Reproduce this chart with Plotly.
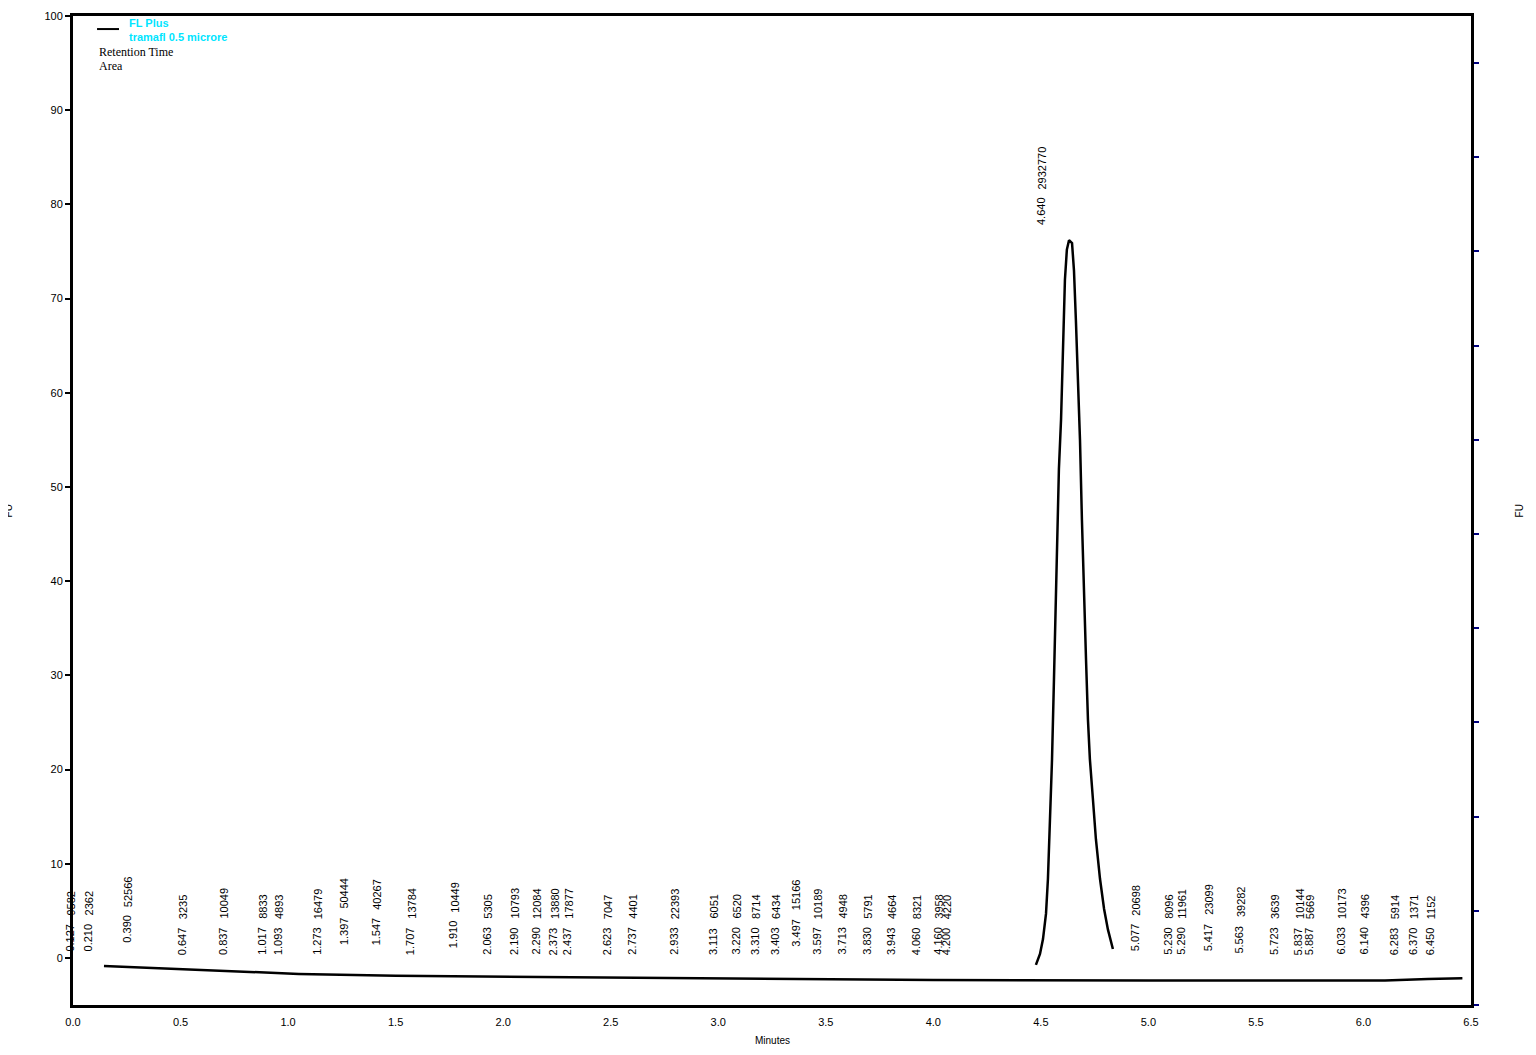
import plotly.graph_objects as go

# baseline of the chromatogram (minutes, FU)
base_t = [0.144, 0.5, 1.05, 1.5, 2.0, 2.6, 3.0, 3.5, 4.0, 5.0, 6.1, 6.3, 6.46]
base_fu = [-0.85, -1.2, -1.7, -1.9, -2.0, -2.05, -2.2, -2.3, -2.35, -2.4, -2.4, -2.25, -2.15]

# main peak trace (minutes, FU)
peak_t = [4.477, 4.496, 4.510, 4.524, 4.533, 4.542, 4.552, 4.561, 4.570, 4.575, 4.584,
          4.594, 4.603, 4.612, 4.621, 4.631, 4.645, 4.654, 4.663, 4.673, 4.682, 4.691,
          4.700, 4.710, 4.719, 4.728, 4.742, 4.756, 4.775, 4.794, 4.812, 4.835]
peak_fu = [-0.74, 0.42, 2.0, 4.7, 8.4, 13.7, 21.1, 29.6, 38.1, 43.4, 51.9,
           57.2, 65.6, 72.0, 75.2, 76.2, 75.9, 73.0, 67.7, 61.4, 55.0, 46.5,
           38.1, 31.7, 25.3, 21.1, 16.9, 12.6, 8.4, 5.2, 3.0, 0.95]

# integration results
ret_time = [0.127, 0.210, 0.390, 0.647, 0.837, 1.017, 1.093, 1.273, 1.397, 1.547,
            1.707, 1.910, 2.063, 2.190, 2.290, 2.373, 2.437, 2.623, 2.737, 2.933,
            3.113, 3.220, 3.310, 3.403, 3.497, 3.597, 3.713, 3.830, 3.943, 4.060,
            4.160, 4.200, 4.640, 5.077, 5.230, 5.290, 5.417, 5.563, 5.723, 5.837,
            5.887, 6.033, 6.140, 6.283, 6.370, 6.450]
areas = [9582, 2362, 52566, 3235, 10049, 8833, 4893, 16479, 50444, 40267,
         13784, 10449, 5305, 10793, 12084, 13880, 17877, 7047, 4401, 22393,
         6051, 6520, 8714, 6434, 15166, 10189, 4948, 5791, 4664, 8321,
         3958, 4220, 2932770, 20698, 8096, 11961, 23099, 39282, 3639, 10144,
         5669, 10173, 4396, 5914, 1371, 1152]
# level (FU) where each label starts
label_fu = [0.6, 0.6, 1.5, 0.2, 0.2, 0.2, 0.2, 0.2, 1.3, 1.2,
            0.2, 0.9, 0.2, 0.2, 0.2, 0.2, 0.2, 0.2, 0.2, 0.2,
            0.2, 0.2, 0.2, 0.2, 1.1, 0.2, 0.2, 0.2, 0.2, 0.2,
            0.2, 0.2, 77.7, 0.6, 0.2, 0.2, 0.6, 0.4, 0.2, 0.2,
            0.2, 0.2, 0.2, 0.2, 0.2, 0.2]

x_ticks = [0.0, 0.5, 1.0, 1.5, 2.0, 2.5, 3.0, 3.5, 4.0, 4.5, 5.0, 5.5, 6.0, 6.5]
y_ticks = [0, 10, 20, 30, 40, 50, 60, 70, 80, 90, 100]
right_ticks = [-5, 5, 15, 25, 35, 45, 55, 65, 75, 85, 95]

fig = go.Figure()
fig.add_trace(go.Scatter(x=base_t, y=base_fu, mode="lines",
                         line=dict(color="black", width=2.5), showlegend=False))
fig.add_trace(go.Scatter(x=peak_t, y=peak_fu, mode="lines",
                         line=dict(color="black", width=2.5), showlegend=False))
# dummy trace so the right axis is drawn
fig.add_trace(go.Scatter(x=[0], y=[0], yaxis="y2", mode="markers",
                         marker=dict(opacity=0), showlegend=False, hoverinfo="skip"))

lab_font = dict(family="Liberation Sans", size=11, color="black")
for rt, ar, lv in zip(ret_time, areas, label_fu):
    fig.add_annotation(x=rt, y=lv, text=f"{rt:.3f}", textangle=-90, showarrow=False,
                       xanchor="center", yanchor="bottom", xshift=-30, font=lab_font,
                       borderpad=0)
    fig.add_annotation(x=rt, y=lv, text=str(ar), textangle=-90, showarrow=False,
                       xanchor="center", yanchor="bottom", xshift=-29, yshift=36,
                       font=lab_font, borderpad=0)

# legend block
fig.add_shape(type="line", xref="paper", yref="paper", x0=0.0172, x1=0.0329,
              y0=0.9868, y1=0.9868, line=dict(color="black", width=2))
fig.add_annotation(xref="paper", yref="paper", x=0.0386, y=0.9929, text="<b>FL Plus</b>",
                   showarrow=False, xanchor="left", yanchor="middle",
                   font=dict(family="Liberation Sans", size=11, color="#00e5ff"))
fig.add_annotation(xref="paper", yref="paper", x=0.0386, y=0.9787,
                   text="<b>tramafl 0.5 microre</b>", showarrow=False,
                   xanchor="left", yanchor="middle",
                   font=dict(family="Liberation Sans", size=11, color="#00e5ff"))
fig.add_annotation(xref="paper", yref="paper", x=0.0172, y=0.9636, text="Retention Time",
                   showarrow=False, xanchor="left", yanchor="middle",
                   font=dict(family="Liberation Serif", size=12, color="black"))
fig.add_annotation(xref="paper", yref="paper", x=0.0172, y=0.9494, text="Area",
                   showarrow=False, xanchor="left", yanchor="middle",
                   font=dict(family="Liberation Serif", size=12, color="black"))

# axis titles
fig.add_annotation(xref="paper", yref="paper", x=0.5, y=-0.036, text="Minutes",
                   showarrow=False, xanchor="center", yanchor="middle",
                   font=dict(family="Liberation Sans", size=10, color="black"))
fig.add_annotation(xref="paper", yref="paper", x=1.035, y=0.5, text="FU",
                   textangle=-90, showarrow=False, xanchor="center", yanchor="middle",
                   font=dict(family="Liberation Sans", size=10, color="black"))
fig.add_annotation(xref="paper", yref="paper", x=-0.0458, y=0.5, text="FU",
                   textangle=-90, showarrow=False, xanchor="center", yanchor="middle",
                   font=dict(family="Liberation Sans", size=10, color="black"))

fig.update_layout(
    width=1536, height=1055,
    margin=dict(l=65, r=73, t=8, b=58),
    plot_bgcolor="white", paper_bgcolor="white",
    font=dict(family="Liberation Sans", size=11, color="black"),
    showlegend=False,
    xaxis=dict(range=[0, 6.5], tickvals=x_ticks, ticktext=[f"{v:.1f}" for v in x_ticks],
               showgrid=False, zeroline=False, showline=True, linecolor="black",
               linewidth=3, mirror=True, ticks="", ticklabelstandoff=5, automargin=False),
    yaxis=dict(range=[-5, 100], tickvals=y_ticks, showgrid=False, zeroline=False,
               showline=True, linecolor="black", linewidth=3, ticks="outside",
               ticklen=5, tickwidth=2, tickcolor="black", automargin=False),
    yaxis2=dict(range=[-5, 100], overlaying="y", side="right", tickvals=right_ticks,
                showticklabels=False, showgrid=False, zeroline=False, showline=True,
                linecolor="black", linewidth=3, ticks="outside", ticklen=5,
                tickwidth=2, tickcolor="#000080", automargin=False),
)

fig.write_html("out.html")
